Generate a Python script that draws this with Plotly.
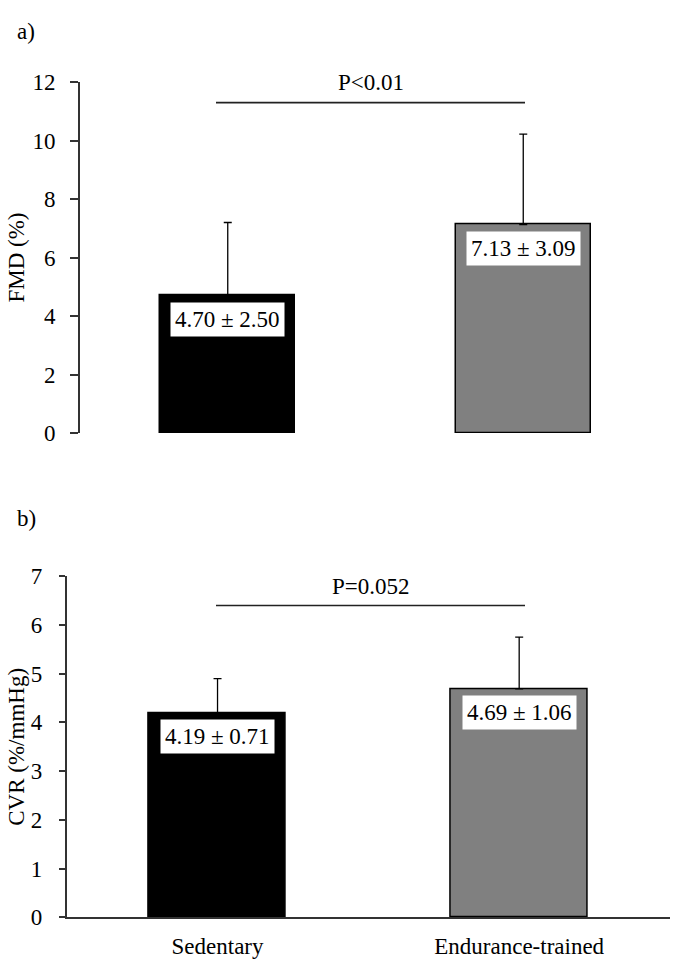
import plotly.graph_objects as go

# ---------------- data ----------------
groups = ["Sedentary", "Endurance-trained"]
fmd_mean = [4.70, 7.13]
fmd_sd = [2.50, 3.09]
cvr_mean = [4.19, 4.69]
cvr_sd = [0.71, 1.06]
bar_colors = ["#000000", "#808080"]
p_texts = ["P<0.01", "P=0.052"]
p_line_level = [11.3, 6.4]
p_text_level = [12.0, 6.78]
panel_labels = ["a)", "b)"]
fmd_ticks = [0, 2, 4, 6, 8, 10, 12]
cvr_ticks = [0, 1, 2, 3, 4, 5, 6, 7]

W, H = 679, 979
FONT = "Liberation Serif"
FS = 23
AX = "#333333"

def px_x(p):
    return p / W

def px_y(p):
    return 1 - p / H

fig = go.Figure()

panels = [
    dict(mean=fmd_mean, sd=fmd_sd, xa="x", ya="y"),
    dict(mean=cvr_mean, sd=cvr_sd, xa="x2", ya="y2"),
]
bar_w = [0.457, 0.454]
for i, p in enumerate(panels):
    fig.add_trace(go.Bar(
        x=groups, y=p["mean"], xaxis=p["xa"], yaxis=p["ya"],
        width=bar_w[i],
        marker=dict(color=bar_colors, line=dict(color="#000000", width=1.5)),
        error_y=dict(type="data", symmetric=False, array=p["sd"],
                     arrayminus=[0, 0], color="#000000", thickness=1.3, width=4),
        showlegend=False, hoverinfo="skip",
    ))

font = dict(family=FONT, size=FS, color="black")
annotations = []
for i, p in enumerate(panels):
    for g, m, s in zip(groups, p["mean"], p["sd"]):
        annotations.append(dict(
            x=g, y=m, xref=p["xa"], yref=p["ya"], xanchor="center",
            yanchor="top", yshift=-6,
            text=f"{m:.2f} ± {s:.2f}", showarrow=False, bgcolor="white",
            borderpad=4, font=font,
        ))

# significance lines and texts
line_x0, line_x1 = px_x(216), px_x(525)
shapes = []
for i, p in enumerate(panels):
    shapes.append(dict(type="line", xref="paper", yref=p["ya"],
                       x0=line_x0, x1=line_x1,
                       y0=p_line_level[i], y1=p_line_level[i],
                       line=dict(color="#222222", width=1.6)))
    annotations.append(dict(x=(line_x0 + line_x1) / 2, y=p_text_level[i],
                            xref="paper", yref=p["ya"], text=p_texts[i],
                            showarrow=False, xanchor="center", yanchor="middle",
                            font=font))

# panel labels
annotations.append(dict(x=px_x(15), y=px_y(20), xref="paper", yref="paper",
                        text=panel_labels[0], showarrow=False, xanchor="left",
                        yanchor="middle", font=font))
annotations.append(dict(x=px_x(15), y=px_y(520), xref="paper", yref="paper",
                        text=panel_labels[1], showarrow=False, xanchor="left",
                        yanchor="middle", font=font))

# y-axis titles
top_dom = [px_y(432), px_y(72)]
bot_dom = [px_y(929), px_y(579)]
annotations.append(dict(x=px_x(17), y=(top_dom[0] + top_dom[1]) / 2, xref="paper",
                        yref="paper", text="FMD (%)", textangle=-90, showarrow=False,
                        xanchor="center", yanchor="middle", font=font))
annotations.append(dict(x=px_x(17), y=(bot_dom[0] + bot_dom[1]) / 2, xref="paper",
                        yref="paper", text="CVR (%/mmHg)", textangle=-90, showarrow=False,
                        xanchor="center", yanchor="middle", font=font))

fig.update_layout(
    width=W, height=H,
    margin=dict(l=0, r=0, t=0, b=0),
    paper_bgcolor="white", plot_bgcolor="white",
    bargap=0,
    shapes=shapes, annotations=annotations,
    xaxis=dict(domain=[px_x(80), px_x(671)], anchor="y", range=[-0.5, 1.5],
               showticklabels=False, showline=False, showgrid=False,
               zeroline=False, ticks=""),
    yaxis=dict(domain=top_dom, anchor="x", range=[0, 12], tickvals=fmd_ticks,
               showline=True, linecolor=AX, linewidth=1.6, ticks="outside",
               ticklen=8, tickwidth=1.6, tickcolor=AX, showgrid=False,
               zeroline=False, tickfont=font, ticklabelstandoff=10),
    xaxis2=dict(domain=[px_x(66.7), px_x(670)], anchor="y2", range=[-0.5, 1.5],
                showline=True, linecolor=AX, linewidth=1.6, ticks="",
                showgrid=False, zeroline=False, tickfont=font,
                ticklabelstandoff=7),
    yaxis2=dict(domain=bot_dom, anchor="x2", range=[0, 7], tickvals=cvr_ticks,
                showline=True, linecolor=AX, linewidth=1.6, ticks="outside",
                ticklen=6, tickwidth=1.6, tickcolor=AX, showgrid=False,
                zeroline=False, tickfont=font, ticklabelstandoff=12),
)

fig.write_html("out.html", config={"displayModeBar": False},
               post_script="document.body.style.margin='0px';")
